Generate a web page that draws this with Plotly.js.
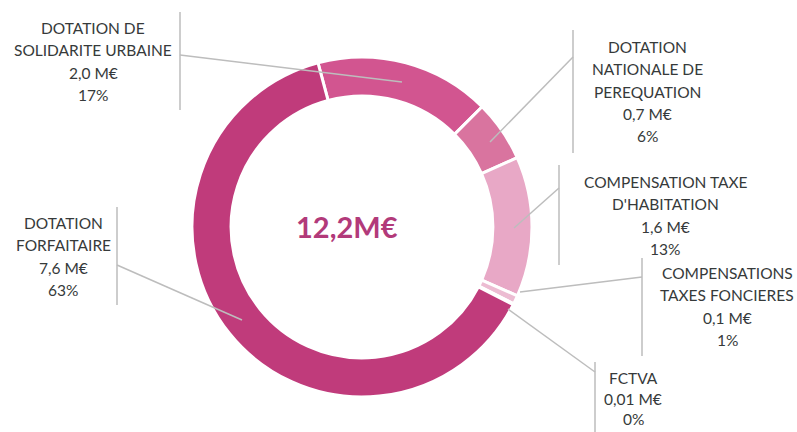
<!DOCTYPE html>
<html>
<head>
<meta charset="utf-8">
<script src="https://cdn.plot.ly/plotly-3.0.1.min.js"></script>
<style>html,body{margin:0;padding:0;background:#fff;}#chart{width:797px;height:432px;}</style>
</head>
<body>
<div id="chart"></div>
<script>
// ---- data ----
var categories = [
  "DOTATION DE<br>SOLIDARITE URBAINE",
  "DOTATION<br>NATIONALE DE<br>PEREQUATION",
  "COMPENSATION TAXE<br>D'HABITATION",
  "COMPENSATIONS<br>TAXES FONCIERES",
  "FCTVA",
  "DOTATION<br>FORFAITAIRE"
];
var values = [2.0, 0.7, 1.6, 0.1, 0.01, 7.6];
var valueLabels = ["2,0 M€", "0,7 M€", "1,6 M€", "0,1 M€", "0,01 M€", "7,6 M€"];
var pctLabels = ["17%", "6%", "13%", "1%", "0%", "63%"];
var totalLabel = "12,2M€";

// ---- styles / layout ----
var colors = ["#d25590", "#d9749f", "#e8a8c6", "#ecbcd2", "#e6a3c2", "#c03b7b"];
var W = 797, H = 432;
function px(x) { return x / W; }
function py(y) { return 1 - y / H; }

// centre (362,227), radius 170
var cx = 362, cy = 227, R = 170;

// label placement: centre x, first line y, line gap, leader lines
var labelPos = [
  {x: 93,  y: 28,  g: 22.3, vx: 180, vy0: 12,  vy1: 110, lx0: 180, ly0: 55,  lx1: 402, ly1: 82},
  {x: 647, y: 47,  g: 22.3, vx: 573, vy0: 30,  vy1: 153, lx0: 573, ly0: 57,  lx1: 490, ly1: 142},
  {x: 665, y: 182, g: 22.3, vx: 559, vy0: 165, vy1: 265, lx0: 559, ly0: 188, lx1: 514, ly1: 228},
  {x: 727, y: 273, g: 22.3, vx: 642, vy0: 258, vy1: 356, lx0: 642, ly0: 277, lx1: 520, ly1: 292},
  {x: 633, y: 378, g: 20.5, vx: 595, vy0: 362, vy1: 432, lx0: 595, ly0: 372, lx1: 508, ly1: 309},
  {x: 63,  y: 223, g: 22.3, vx: 117, vy0: 207, vy1: 305, lx0: 117, ly0: 265, lx1: 242, ly1: 320}
];
var textColor = "#363a3a";
var leaderColor = "#bdbdbd";
var fontFam = "Lato, Carlito, 'Open Sans', sans-serif";

var trace = {
  type: "pie",
  values: values,
  labels: categories,
  sort: false,
  direction: "clockwise",
  rotation: -15,
  hole: 0.77,
  textinfo: "none",
  hoverinfo: "none",
  showlegend: false,
  marker: {colors: colors, line: {color: "#ffffff", width: 3}},
  domain: {x: [px(cx - R), px(cx + R)], y: [py(cy + R), py(cy - R)]}
};

var annotations = [];
var shapes = [];
for (var i = 0; i < categories.length; i++) {
  var lines = categories[i].split("<br>").concat([valueLabels[i], pctLabels[i]]);
  var p = labelPos[i];
  for (var j = 0; j < lines.length; j++) {
    annotations.push({
      xref: "paper", yref: "paper",
      x: px(p.x), y: py(p.y + j * p.g),
      xanchor: "center", yanchor: "middle",
      text: lines[j], showarrow: false, borderpad: 0,
      font: {family: fontFam, size: 15.5, color: textColor}
    });
  }
  shapes.push({type: "line", xref: "paper", yref: "paper", layer: "above",
    x0: px(p.vx), x1: px(p.vx), y0: py(p.vy0), y1: py(p.vy1),
    line: {color: leaderColor, width: 1.5}});
  shapes.push({type: "line", xref: "paper", yref: "paper", layer: "above",
    x0: px(p.lx0), x1: px(p.lx1), y0: py(p.ly0), y1: py(p.ly1),
    line: {color: leaderColor, width: 1.5}});
}
annotations.push({
  xref: "paper", yref: "paper", x: px(347), y: py(227),
  xanchor: "center", yanchor: "middle", showarrow: false,
  text: "<b>" + totalLabel + "</b>",
  font: {family: fontFam, size: 29, color: "#b23a7a"}
});

var layout = {
  width: W, height: H,
  margin: {l: 0, r: 0, t: 0, b: 0},
  paper_bgcolor: "#ffffff",
  plot_bgcolor: "#ffffff",
  showlegend: false,
  annotations: annotations,
  shapes: shapes
};

Plotly.newPlot("chart", [trace], layout, {displayModeBar: false, staticPlot: true});
</script>
</body>
</html>
